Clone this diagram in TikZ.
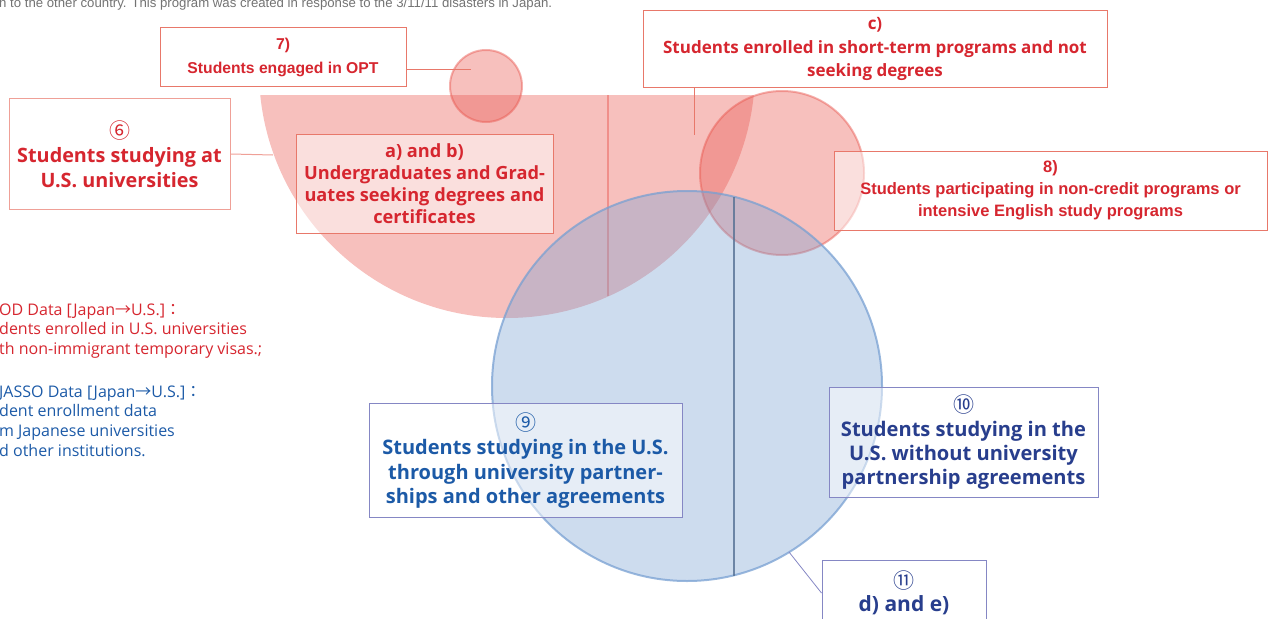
\documentclass[tikz,border=0pt]{standalone}
\usepackage{fontspec}
\setmainfont{Open Sans}
\newfontfamily\helv{Liberation Sans}
\newfontfamily\cjk{Noto Sans CJK JP}
\usetikzlibrary{positioning}
\definecolor{jred}{HTML}{E8544C}
\definecolor{jblue}{HTML}{78A0D2}
\definecolor{txtred}{HTML}{D6262F}
\definecolor{txtblue}{HTML}{1C5AA7}
\definecolor{txtnavy}{HTML}{283E8D}
\definecolor{boxred}{HTML}{E8786A}
\definecolor{boxblue}{HTML}{8587C4}
\tikzset{
  redbox/.style={draw=boxred,line width=1pt,fill=white,fill opacity=0.5,text opacity=1,
    text=txtred,align=center,inner sep=0pt},
  bluebox/.style={redbox,draw=boxblue,text=txtblue},
  redline/.style={boxred,line width=1pt},
  blueline/.style={boxblue,line width=0.8pt},
  redcircle/.style={fill=jred,fill opacity=0.37,draw=jred,draw opacity=0.45,line width=2pt},
  bluecircle/.style={fill=jblue,fill opacity=0.37,draw=jblue,draw opacity=0.75,line width=2pt},
  notetext/.style={anchor=west,align=left,inner sep=0pt,font=\fontsize{16}{19.6}\selectfont}
}
\newcommand\circnum[1]{{\cjk\mdseries\fontsize{21}{10}\selectfont #1}}
\begin{document}
\begin{tikzpicture}[x=1pt,y=-1pt]
\useasboundingbox (0,0) rectangle (1268,618);

\node[anchor=base west,inner sep=0pt,text=black!55,font=\helv\fontsize{13.2}{15}\selectfont] (intro) at (-1,8)
  {n to the other country. This program was created in response to the 3/11/11 disasters in Japan.};

\begin{scope}
\clip (0,95) rectangle (1268,618);
\fill [jred,fill opacity=0.37] (507,70) circle[radius=248pt];
\end{scope}
\draw [jred,opacity=0.45,line width=1.5pt](608,95)--(608,296);
\filldraw [redcircle] (486,86) circle[radius=36pt];
\filldraw [redcircle] (782,173) circle[radius=82pt];
\filldraw [bluecircle] (687,386) circle[radius=195pt];
\draw [jblue!70!black,opacity=0.8,line width=2pt](734,197)--(734,576);

\node[redbox,minimum width=246pt,minimum height=58pt,font=\helv\bfseries\fontsize{15.7}{24}\selectfont] (opt) at (283,57)
  {7)\\Students engaged in OPT};
\node[redbox,draw=boxred!70,minimum width=221pt,minimum height=111pt,font=\bfseries\fontsize{19.8}{24.5}\selectfont] (six) at (119.5,154)
  {\circnum{⑥}\\Students studying at\\U.S. universities};
\node[redbox,minimum width=257pt,minimum height=99pt,font=\bfseries\fontsize{18.2}{22}\selectfont] (ab) at (424.5,183.5)
  {a) and b)\\Undergraduates and Grad-\\uates seeking degrees and\\certificates};
\node[redbox,minimum width=464pt,minimum height=76pt,font=\bfseries\fontsize{17}{23.5}\selectfont] (short) at (875,49)
  {c)\\Students enrolled in short-term programs and not\\seeking degrees};
\node[redbox,minimum width=433pt,minimum height=79pt,font=\helv\bfseries\fontsize{16.5}{22}\selectfont] (eight) at (1050.5,190.5)
  {8)\\Students participating in non-credit programs or\\intensive English study programs};
\node[bluebox,minimum width=313pt,minimum height=114pt,font=\bfseries\fontsize{20}{24.3}\selectfont] (nine) at (525.5,460.5)
  {\circnum{⑨}\\Students studying in the U.S.\\through university partner-\\ships and other agreements};
\node[bluebox,text=txtnavy,minimum width=269pt,minimum height=110pt,font=\bfseries\fontsize{20.1}{23.7}\selectfont] (ten) at (963.5,442)
  {\circnum{⑩}\\Students studying in the\\U.S. without university\\partnership agreements};
\node[bluebox,text=txtnavy,minimum width=164pt,minimum height=66pt,font=\bfseries\fontsize{21}{23}\selectfont] (de) at (904,593)
  {\circnum{⑪}\\d) and e)};

\coordinate (optin) at (471,69);
\coordinate (bigrim) at (273,155);
\coordinate (shortin) at (694,135);
\coordinate (bluerim) at (789,552);
\draw [redline] ([yshift=-12pt]opt.east)--(optin);
\draw [redline,boxred!70] (six.east)--(bigrim);
\draw [redline] (short.south -| shortin)--(shortin);
\draw [blueline] (bluerim)--(de.west);

\node[notetext,text=txtred] (sevis) at (-1,331)
  {OD Data [Japan{\cjk →}U.S.]{\cjk ：}\\dents enrolled in U.S. universities\\th non-immigrant temporary visas.;};
\node[notetext,text=txtblue] (jasso) at (-1,421)
  {JASSO Data [Japan{\cjk →}U.S.]{\cjk ：}\\dent enrollment data\\m Japanese universities\\d other institutions.};
\end{tikzpicture}
\end{document}
